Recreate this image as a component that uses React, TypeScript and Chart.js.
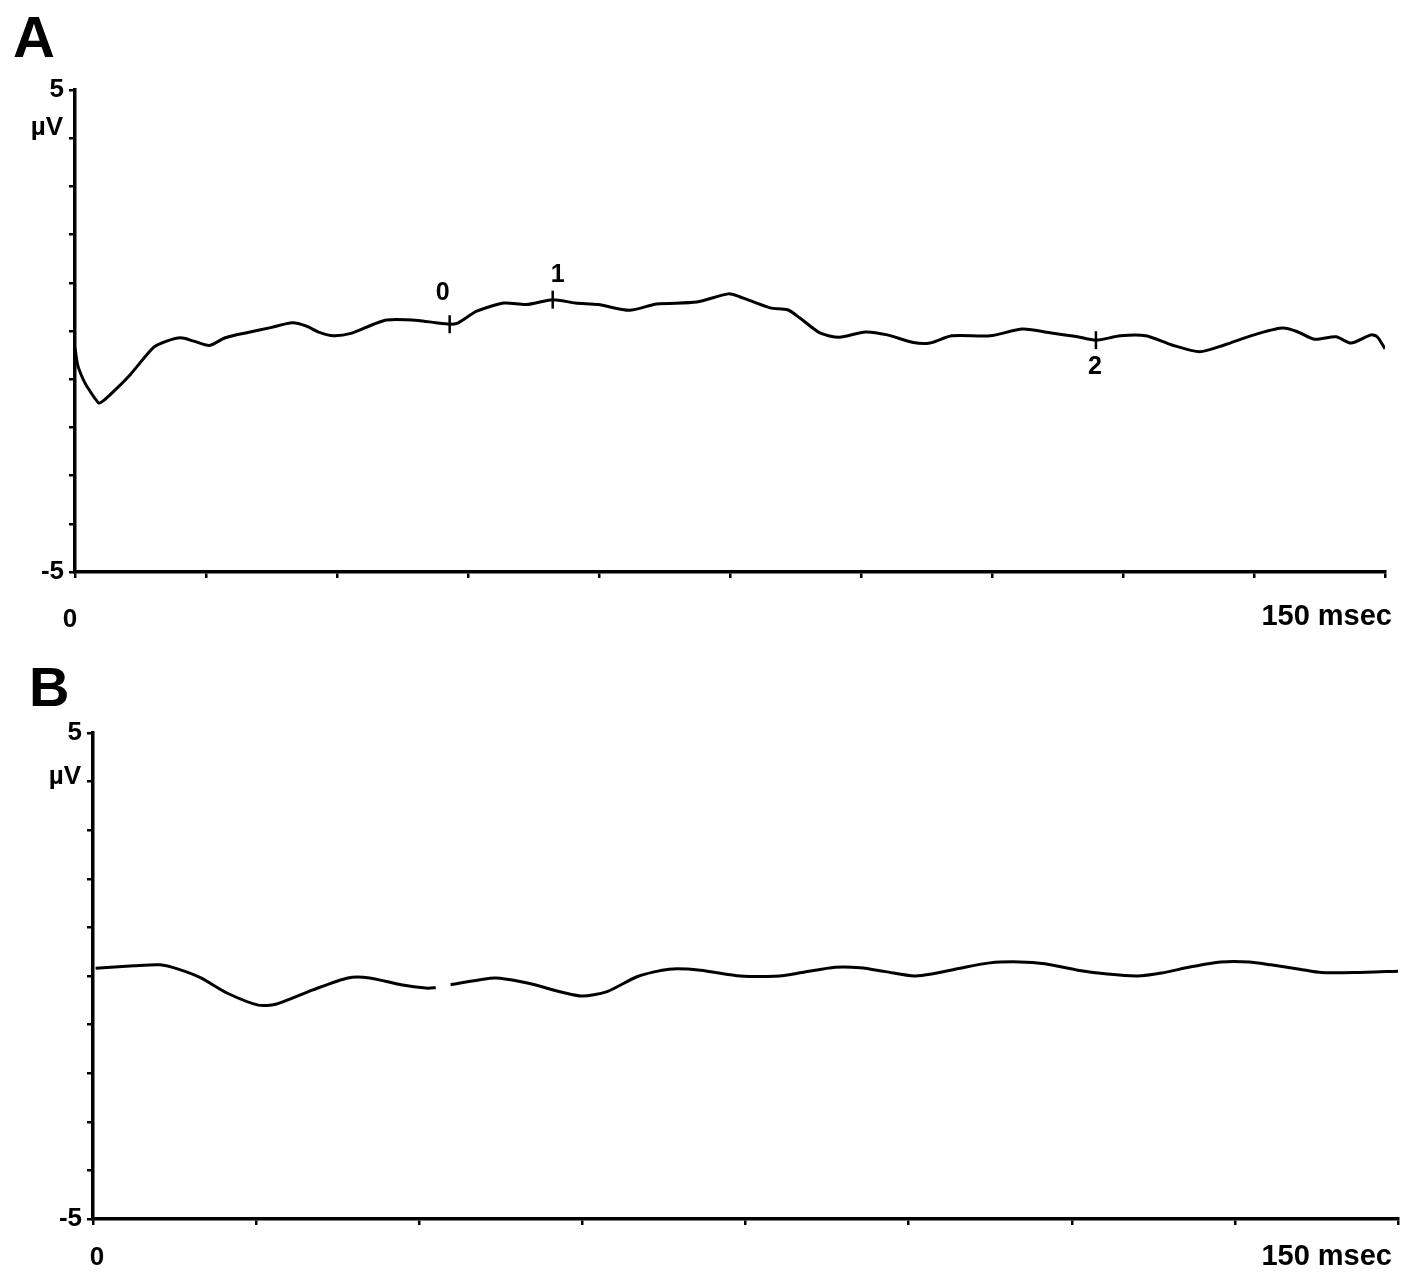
import React, { useEffect, useRef } from "react";
import { Chart, registerables } from "chart.js";

Chart.register(...registerables);

// ---------- DATA ----------
const panelLabels = ["A", "B"];
const yTickValues = [5, -5];
const unitLabel = "µV";
const xStartLabel = "0";
const xEndLabel = "150 msec";
const xMin = 0;
const xMax = 150;
const yMin = -5;
const yMax = 5;
const xTickStepA = 15;
const xTickStepB = 18.75;

// Panel A trace (ms, µV)
const timeA = [
  0, 0.3, 0.8, 1.3, 2.7, 3.3, 4.9, 6.4, 9.0, 10.5, 12.1, 13.6, 15.4, 17.2, 19.8, 22.4, 24.9, 26.5, 28.0,
  29.6, 31.6, 34.2, 35.7, 39.3, 41.3, 42.9, 43.9, 46.0, 49.1, 51.7, 54.7, 57.3, 59.9, 63.5, 66.6, 71.2,
  74.8, 76.1, 79.6, 81.6, 83.0, 85.3, 87.5, 90.5, 93.0, 96.0, 97.9, 100.4, 104.8, 108.5, 111.8, 114.8,
  116.9, 119.7, 122.6, 125.6, 128.8, 131.6, 135.0, 138.2, 139.9, 141.9, 144.4, 146.1, 148.4, 149.1, 150.0,
];
const voltA = [
  -0.35, -0.7, -0.95, -1.13, -1.49, -1.44, -1.17, -0.89, -0.34, -0.21, -0.14, -0.21, -0.3, -0.14, -0.03,
  0.07, 0.17, 0.1, -0.03, -0.1, -0.05, 0.14, 0.23, 0.22, 0.17, 0.14, 0.17, 0.41, 0.58, 0.55, 0.65, 0.58,
  0.55, 0.43, 0.56, 0.6, 0.77, 0.71, 0.48, 0.44, 0.27, -0.04, -0.13, -0.02, -0.08, -0.24, -0.25, -0.1,
  -0.1, 0.04, -0.04, -0.12, -0.19, -0.1, -0.1, -0.29, -0.43, -0.29, -0.08, 0.06, -0.01, -0.17, -0.12,
  -0.25, -0.08, -0.12, -0.37,
];
const markerTimesA = [42.9, 54.7, 116.9];
const markerVoltsA = [0.14, 0.65, -0.19];
const markerLabelsA = ["0", "1", "2"];

// Panel B trace (ms, µV); null = gap in the recording
const timeB = [
  0.3, 4.7, 7.7, 9.8, 12.4, 15.4, 19.0, 21.0, 25.2, 29.3, 31.8, 35.4, 38.5, 39.4, 40.2, 41.1, 46.2, 49.8,
  56.0, 59.1, 62.6, 66.2, 69.8, 74.4, 78.9, 81.5, 85.3, 88.2, 91.1, 94.4, 96.4, 99.7, 103.1, 106.5, 109.4,
  113.2, 116.6, 120.0, 122.8, 126.2, 129.6, 132.9, 135.4, 138.7, 141.2, 145.0, 150.0,
];
const voltB = [
  0.16, 0.21, 0.23, 0.14, -0.04, -0.35, -0.6, -0.58, -0.29, -0.04, -0.04, -0.18, -0.25, -0.24, null, -0.18,
  -0.04, -0.14, -0.41, -0.32, -0.01, 0.14, 0.12, 0.0, 0.0, 0.07, 0.18, 0.17, 0.09, 0.0, 0.04, 0.16, 0.27,
  0.29, 0.25, 0.12, 0.04, 0.0, 0.06, 0.19, 0.29, 0.29, 0.23, 0.14, 0.07, 0.07, 0.1,
];

// ---------- RENDERING ----------
const FONT = '"Liberation Sans", Arial, Helvetica, sans-serif';

type TextItem = { text: string; x: number; y: number; size: number; align: CanvasTextAlign };

const overlayPlugin = {
  id: "overlayText",
  afterDraw(chart: any) {
    const opts = chart.options.plugins.overlayText;
    if (!opts) return;
    const ctx = chart.ctx;
    ctx.save();
    ctx.fillStyle = "#000";
    ctx.textBaseline = "middle";
    (opts.items as TextItem[]).forEach((it) => {
      ctx.font = `bold ${it.size}px ${FONT}`;
      ctx.textAlign = it.align;
      ctx.fillText(it.text, it.x, it.y);
    });
    const xs = chart.scales.x;
    const ys = chart.scales.y;
    (opts.markers || []).forEach((m: any) => {
      ctx.font = `bold ${m.size}px ${FONT}`;
      ctx.textAlign = "center";
      ctx.fillText(m.text, xs.getPixelForValue(m.xv) + m.dx, ys.getPixelForValue(m.yv) + m.dy);
    });
    ctx.restore();
  },
};

type PanelCfg = {
  width: number;
  height: number;
  top: number;
  padTop: number;
  padRight: number;
  yAxisW: number;
  xAxisH: number;
  xStep: number;
  times: number[];
  volts: (number | null)[];
  markers?: { t: number[]; v: number[]; labels: string[]; dx: number[]; dy: number[] };
  texts: TextItem[];
};

function Panel({ cfg }: { cfg: PanelCfg }) {
  const ref = useRef<HTMLCanvasElement | null>(null);
  useEffect(() => {
    if (!ref.current) return;
    const datasets: any[] = [
      {
        data: cfg.times.map((t, i) => ({ x: t, y: cfg.volts[i] })),
        borderColor: "#000",
        borderWidth: 3,
        pointRadius: 0,
        tension: 0.25,
        spanGaps: false,
        fill: false,
      },
    ];
    if (cfg.markers) {
      datasets.push({
        type: "scatter",
        data: cfg.markers.t.map((t, i) => ({ x: t, y: cfg.markers!.v[i] })),
        pointStyle: "line",
        rotation: 90,
        pointRadius: 9,
        borderColor: "#000",
        borderWidth: 2.5,
        showLine: false,
      });
    }
    const gridCfg = {
      display: true,
      drawOnChartArea: false,
      drawTicks: true,
      tickLength: 6,
      color: "#000",
      lineWidth: 2.5,
    };
    const chart = new Chart(ref.current, {
      type: "line",
      data: { datasets },
      plugins: [overlayPlugin],
      options: {
        responsive: false,
        animation: false,
        layout: { padding: { left: 0, right: cfg.padRight, top: cfg.padTop, bottom: 0 } },
        plugins: {
          legend: { display: false },
          tooltip: { enabled: false },
          overlayText: {
            items: cfg.texts,
            markers: cfg.markers
              ? cfg.markers.labels.map((l, i) => ({
                  text: l,
                  xv: cfg.markers!.t[i],
                  yv: cfg.markers!.v[i],
                  dx: cfg.markers!.dx[i],
                  dy: cfg.markers!.dy[i],
                  size: 25,
                }))
              : [],
          },
        } as any,
        scales: {
          x: {
            type: "linear",
            min: xMin,
            max: xMax,
            ticks: { stepSize: cfg.xStep, autoSkip: false, callback: () => "" },
            grid: gridCfg,
            border: { display: true, color: "#000", width: 3.5 },
            afterFit: (s: any) => {
              s.height = cfg.xAxisH;
            },
          },
          y: {
            type: "linear",
            min: yMin,
            max: yMax,
            ticks: {
              stepSize: 1,
              autoSkip: false,
              padding: 5,
              color: "#000",
              font: { size: 26, weight: "bold", family: FONT },
              callback: (v: any) => (yTickValues.includes(Number(v)) ? String(v) : ""),
            },
            grid: gridCfg,
            border: { display: true, color: "#000", width: 3.5 },
            afterFit: (s: any) => {
              s.width = cfg.yAxisW;
            },
          },
        },
      } as any,
    });
    return () => chart.destroy();
  }, [cfg]);
  return (
    <canvas
      ref={ref}
      width={cfg.width}
      height={cfg.height}
      style={{ position: "absolute", left: 0, top: cfg.top, width: cfg.width, height: cfg.height }}
    />
  );
}

const cfgA: PanelCfg = {
  width: 1417,
  height: 650,
  top: 0,
  padTop: 90,
  padRight: 32,
  yAxisW: 75,
  xAxisH: 78,
  xStep: xTickStepA,
  times: timeA,
  volts: voltA,
  markers: {
    t: markerTimesA,
    v: markerVoltsA,
    labels: markerLabelsA,
    dx: [-7, 5, -1],
    dy: [-31, -25, 27],
  },
  texts: [
    { text: panelLabels[0], x: 13, y: 41, size: 58, align: "left" },
    { text: unitLabel, x: 63, y: 128, size: 26, align: "right" },
    { text: xStartLabel, x: 70, y: 620, size: 26, align: "center" },
    { text: xEndLabel, x: 1392, y: 617, size: 29, align: "right" },
  ],
};

const cfgB: PanelCfg = {
  width: 1417,
  height: 637,
  top: 650,
  padTop: 83,
  padRight: 19,
  yAxisW: 93,
  xAxisH: 68,
  xStep: xTickStepB,
  times: timeB,
  volts: voltB,
  texts: [
    { text: panelLabels[1], x: 29, y: 41, size: 56, align: "left" },
    { text: unitLabel, x: 81, y: 127, size: 26, align: "right" },
    { text: xStartLabel, x: 97, y: 608, size: 26, align: "center" },
    { text: xEndLabel, x: 1392, y: 607, size: 29, align: "right" },
  ],
};

export default function App() {
  return (
    <div
      style={{
        position: "absolute",
        left: 0,
        top: 0,
        width: 1417,
        height: 1287,
        background: "#fff",
        overflow: "hidden",
      }}
    >
      <Panel cfg={cfgA} />
      <Panel cfg={cfgB} />
    </div>
  );
}
